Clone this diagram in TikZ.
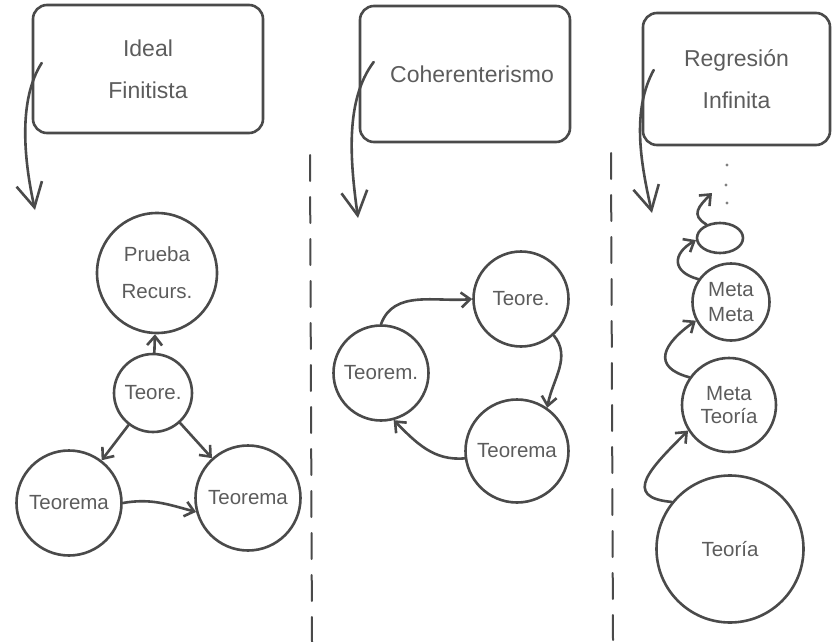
\documentclass[tikz,border=0pt]{standalone}
\usepackage{fontspec}
\setmainfont{Liberation Sans}
\usetikzlibrary{arrows.meta,shapes.geometric}
\definecolor{ink}{HTML}{4A4A4A}
\definecolor{txt}{HTML}{5C5C5C}
\begin{document}
\begin{tikzpicture}[x=1pt,y=1pt,line cap=round,line join=round,
  box/.style={draw=ink,line width=2.6pt,rounded corners=14pt,text=txt,align=center,font=\fontsize{23}{42}\selectfont},
  bub/.style={draw=ink,line width=2.6pt,circle,inner sep=0pt,text=txt,align=center,font=\fontsize{20.5}{25}\selectfont},
  bigarr/.style={draw=ink,line width=2.6pt,-{Straight Barb[length=24pt,width=26pt]}},
  arr/.style={draw=ink,line width=2.6pt,-{Straight Barb[length=9pt,width=15pt]}},
  sep/.style={draw=ink,line width=2pt,dash pattern=on 26pt off 16pt}]
\useasboundingbox (0,0) rectangle (833,-642);
% boxes
\node[box,minimum width=230pt,minimum height=128pt] (b1) at (148,-69) {Ideal\\Finitista};
\node[box,minimum width=210pt,minimum height=136pt] (b2) at (465,-74) {\hspace*{14pt}Coherenterismo};
\node[box,minimum width=187pt,minimum height=132pt] (b3) at (736.5,-79) {Regresión\\Infinita};
% separators
\draw[sep] (310,-155) -- (312,-642);
\draw[sep] (611,-153) -- (613,-640);
% column 1
\node[bub,minimum size=120pt,font=\fontsize{20.5}{37}\selectfont] (p1) at (157,-273) {Prueba\\Recurs.};
\node[bub,minimum size=78pt] (t1) at (153,-393) {Teore.};
\node[bub,minimum size=105pt] (tl) at (69,-503) {Teorema};
\node[bub,minimum size=105pt] (tr) at (248,-498) {Teorema};
% column 2
\node[bub,minimum size=95pt] (t2) at (521,-299) {Teore.};
\node[bub,minimum size=95pt] (tm) at (381,-373) {Teorem.};
\node[bub,minimum size=103pt] (tb) at (517,-451) {Teorema};
% column 3
\node[bub,minimum size=147pt] (th) at (730,-549) {Teoría};
\node[bub,minimum size=94pt,font=\fontsize{20.5}{23}\selectfont] (mt) at (729,-405) {Meta\\Teoría};
\node[bub,minimum size=77pt,font=\fontsize{20.5}{25}\selectfont] (mm) at (731,-302) {Meta\\Meta};
\node[draw=ink,line width=2.6pt,ellipse,minimum width=46pt,minimum height=30pt,inner sep=0pt] (se) at (720,-238) {};
\fill[ink!70] (727,-165) circle (1.6pt) (726,-185) circle (1.6pt) (727,-203) circle (1.6pt);
% box arrows
\coordinate (e1) at (35,-210);
\coordinate (e2) at (358,-218);
\coordinate (e3) at (652,-213);
\draw[bigarr] ([xshift=10pt,yshift=6pt]b1.west) .. controls (18,-100) and (24,-160) .. (e1);
\draw[bigarr] ([xshift=15pt,yshift=12pt]b2.west) .. controls (345,-100) and (350,-160) .. (e2);
\draw[bigarr] ([xshift=12pt,yshift=9pt]b3.west) .. controls (632,-110) and (640,-160) .. (e3);
% column 1 arrows
\draw[arr] (t1) -- (p1);
\draw[arr] (t1) -- (tl);
\draw[arr] (t1) -- (tr);
\draw[arr] (tl.east) to[out=10,in=165] (tr.195);
% column 2 arrows
\draw[arr] (tm.north) to[out=70,in=185] (t2.west);
\draw[arr] (t2.-48) to[out=-50,in=80] (tb.55);
\draw[arr] (tb.188) to[out=185,in=-45] (tm.-75);
% column 3 arrows
\coordinate (e4) at (712,-193);
\draw[arr] (th.141) to[out=175,in=225,looseness=1.8] (mt.212);
\draw[arr] (mt.145) to[out=165,in=215,looseness=1.8] (mm.208);
\draw[arr] (mm.145) to[out=165,in=210,looseness=1.8] (se.185);
\draw[arr] (se.135) to[out=150,in=225,looseness=1.5] (e4);
\end{tikzpicture}
\end{document}
